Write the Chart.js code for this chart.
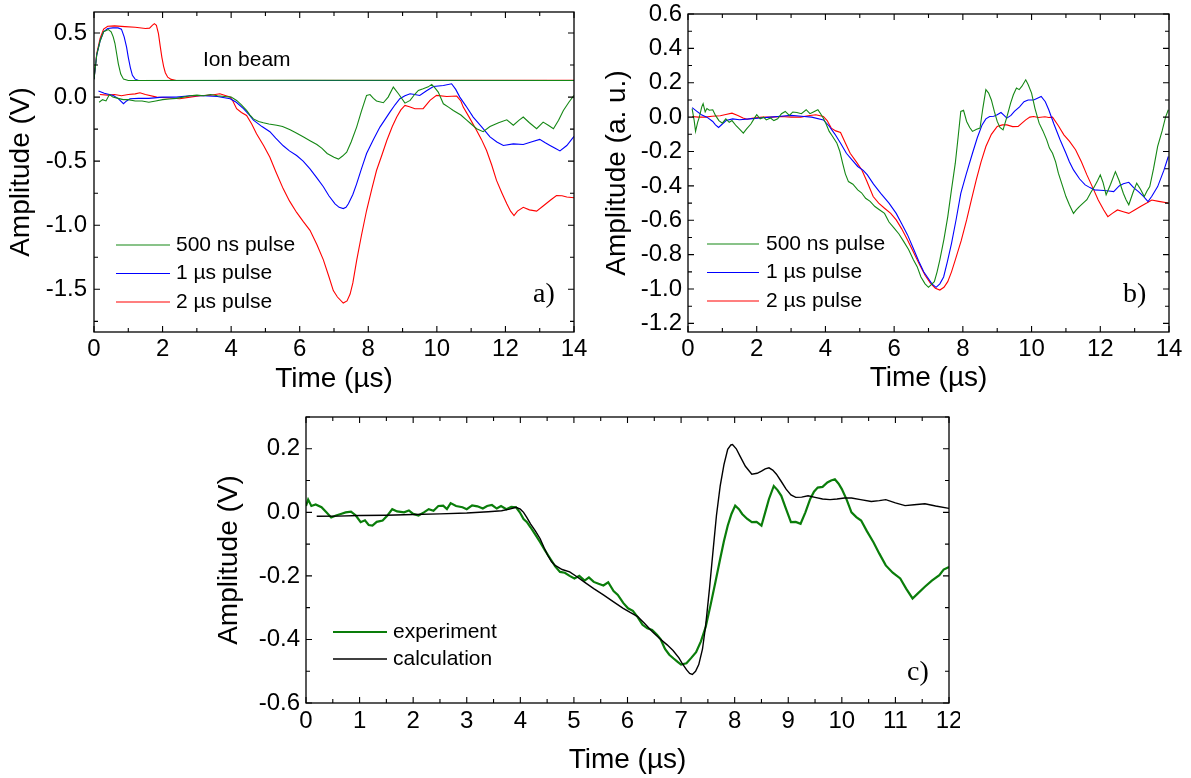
<!DOCTYPE html>
<html>
<head>
<meta charset="utf-8">
<script src="https://cdn.jsdelivr.net/npm/chart.js@4.4.0/dist/chart.umd.min.js"></script>
<style>
  body { margin: 0; background: #fff; }
  #wrap { position: relative; width: 1191px; height: 778px; background: #fff; }
  #wrap canvas { position: absolute; }
</style>
</head>
<body>
<div id="wrap">
  <canvas id="chartA" width="595" height="400" style="left:0;top:0"></canvas>
  <canvas id="chartB" width="596" height="400" style="left:595px;top:0"></canvas>
  <canvas id="chartC" width="760" height="378" style="left:200px;top:400px"></canvas>
</div>
<script>
// ---- a) raw signals, [time µs, amplitude V]
var pulseA500 = [[0,0.14],[0.08,0.33],[0.18,0.44],[0.28,0.51],[0.42,0.527],[0.5,0.51],[0.56,0.47],[0.61,0.42],[0.66,0.34],[0.71,0.26],[0.78,0.18],[0.86,0.14],[1.0,0.13],[6,0.131],[14,0.13]];
var pulseA1 = [[0,0.14],[0.08,0.33],[0.18,0.44],[0.28,0.51],[0.4,0.535],[0.55,0.54],[0.7,0.54],[0.8,0.53],[0.88,0.47],[0.95,0.39],[1.0,0.31],[1.06,0.23],[1.12,0.17],[1.2,0.14],[1.3,0.13],[14,0.13]];
var pulseA2 = [[0,0.14],[0.08,0.34],[0.18,0.46],[0.28,0.53],[0.4,0.553],[0.6,0.556],[0.9,0.55],[1.2,0.545],[1.5,0.535],[1.62,0.538],[1.7,0.56],[1.76,0.573],[1.82,0.56],[1.88,0.495],[1.93,0.4],[1.98,0.31],[2.03,0.24],[2.08,0.19],[2.15,0.155],[2.25,0.138],[2.4,0.13],[14,0.132]];

var sigA500 = [[0.15,-0.04],[0.25,-0.02],[0.35,-0.03],[0.45,0.02],[0.55,0.0],[0.7,-0.01],[0.85,-0.02],[1.0,-0.02],[1.2,-0.03],[1.4,-0.03],[1.6,-0.04],[1.8,-0.03],[2.0,-0.02],[2.2,-0.015],[2.4,-0.01],[2.6,0.0],[2.8,0.01],[3.0,0.015],[3.2,0.01],[3.4,0.02],[3.6,0.01],[3.8,0.005],[4.0,0.0],[4.16,-0.026],[4.3,-0.06],[4.45,-0.104],[4.55,-0.14],[4.65,-0.17],[4.8,-0.19],[4.94,-0.2],[5.1,-0.21],[5.33,-0.22],[5.5,-0.23],[5.72,-0.255],[5.9,-0.28],[6.1,-0.31],[6.3,-0.34],[6.5,-0.37],[6.65,-0.4],[6.8,-0.44],[7.0,-0.47],[7.13,-0.484],[7.25,-0.46],[7.37,-0.43],[7.5,-0.35],[7.66,-0.234],[7.8,-0.11],[7.95,0.013],[8.05,0.02],[8.15,-0.01],[8.24,-0.03],[8.44,-0.044],[8.58,0.0],[8.73,0.078],[8.88,0.026],[9.07,-0.047],[9.22,-0.026],[9.35,0.02],[9.46,0.052],[9.6,0.065],[9.75,0.08],[9.85,0.099],[9.95,0.07],[10.04,0.039],[10.19,-0.052],[10.35,-0.08],[10.48,-0.104],[10.7,-0.14],[10.87,-0.18],[11.0,-0.21],[11.16,-0.247],[11.35,-0.27],[11.55,-0.23],[11.8,-0.2],[12.04,-0.177],[12.23,-0.22],[12.4,-0.18],[12.52,-0.156],[12.7,-0.2],[12.91,-0.247],[13.1,-0.195],[13.25,-0.22],[13.4,-0.247],[13.55,-0.18],[13.69,-0.104],[13.85,-0.04],[14,0.013]];
var sigA1 = [[0.13,0.047],[0.3,0.03],[0.56,0.013],[0.7,-0.01],[0.86,-0.052],[0.95,-0.03],[1.05,-0.013],[1.3,-0.01],[1.6,-0.01],[2.0,0.0],[2.4,0.0],[2.8,0.01],[3.2,0.01],[3.6,0.005],[3.97,-0.013],[4.15,-0.04],[4.36,-0.09],[4.5,-0.13],[4.65,-0.18],[4.9,-0.23],[5.13,-0.27],[5.3,-0.32],[5.52,-0.38],[5.7,-0.42],[5.91,-0.456],[6.1,-0.5],[6.3,-0.56],[6.5,-0.63],[6.69,-0.7],[6.85,-0.77],[7.03,-0.833],[7.15,-0.86],[7.27,-0.87],[7.35,-0.86],[7.42,-0.833],[7.55,-0.76],[7.66,-0.677],[7.8,-0.56],[7.95,-0.44],[8.15,-0.33],[8.34,-0.234],[8.5,-0.17],[8.63,-0.117],[8.78,-0.06],[8.92,-0.013],[9.07,0.01],[9.22,0.026],[9.35,0.02],[9.5,0.013],[9.7,0.05],[9.9,0.083],[10.19,0.091],[10.43,0.104],[10.55,0.06],[10.67,0.0],[10.85,-0.07],[11.06,-0.156],[11.3,-0.23],[11.55,-0.31],[11.75,-0.35],[11.94,-0.378],[12.23,-0.365],[12.52,-0.37],[12.75,-0.35],[13.0,-0.33],[13.15,-0.355],[13.3,-0.378],[13.45,-0.4],[13.59,-0.42],[13.79,-0.378],[14,-0.307]];
var sigA2 = [[0.17,0.02],[0.4,0.015],[0.6,0.02],[0.8,0.01],[1.0,0.02],[1.2,0.025],[1.34,0.034],[1.5,0.02],[1.83,0.0],[2.1,-0.005],[2.5,-0.013],[2.8,0.0],[3.1,0.01],[3.4,0.015],[3.67,0.026],[3.85,0.01],[3.97,0.0],[4.05,-0.03],[4.16,-0.09],[4.3,-0.12],[4.45,-0.143],[4.6,-0.21],[4.74,-0.286],[4.95,-0.38],[5.13,-0.47],[5.3,-0.58],[5.52,-0.716],[5.7,-0.81],[5.91,-0.9],[6.1,-0.97],[6.3,-1.04],[6.5,-1.15],[6.69,-1.27],[6.85,-1.4],[6.98,-1.51],[7.1,-1.56],[7.27,-1.607],[7.38,-1.59],[7.47,-1.537],[7.55,-1.45],[7.66,-1.276],[7.8,-1.08],[7.95,-0.885],[8.1,-0.72],[8.24,-0.573],[8.4,-0.45],[8.54,-0.339],[8.7,-0.23],[8.83,-0.156],[8.95,-0.1],[9.07,-0.065],[9.2,-0.075],[9.36,-0.091],[9.6,-0.09],[9.8,-0.026],[9.99,0.013],[10.29,0.005],[10.58,0.008],[10.7,-0.03],[10.77,-0.078],[10.95,-0.16],[11.16,-0.26],[11.3,-0.33],[11.45,-0.417],[11.6,-0.53],[11.74,-0.65],[11.9,-0.75],[12.04,-0.833],[12.15,-0.89],[12.25,-0.924],[12.35,-0.89],[12.52,-0.86],[12.7,-0.88],[12.91,-0.89],[13.1,-0.85],[13.3,-0.807],[13.49,-0.768],[13.65,-0.77],[13.79,-0.78],[14,-0.786]];

// ---- b) normalised signals, [time µs, a.u.]
var sigB500 = [[0.12,0.05],[0.18,-0.02],[0.22,-0.083],[0.28,-0.03],[0.33,0.0],[0.4,0.06],[0.44,0.078],[0.5,0.03],[0.55,0.05],[0.62,0.04],[0.72,0.043],[0.8,0.01],[0.9,-0.02],[1.0,-0.035],[1.1,-0.01],[1.2,-0.03],[1.28,-0.02],[1.4,-0.05],[1.5,-0.07],[1.61,-0.093],[1.7,-0.07],[1.83,-0.04],[1.92,-0.01],[2.0,0.014],[2.1,-0.01],[2.2,0.0],[2.28,-0.016],[2.4,-0.005],[2.5,-0.02],[2.61,-0.01],[2.72,0.02],[2.83,0.033],[2.95,0.01],[3.05,0.03],[3.17,0.027],[3.3,0.02],[3.44,0.043],[3.55,0.02],[3.65,0.03],[3.78,0.043],[3.86,0.02],[3.94,-0.006],[4.02,-0.04],[4.11,-0.083],[4.2,-0.11],[4.33,-0.15],[4.42,-0.2],[4.5,-0.268],[4.58,-0.33],[4.67,-0.375],[4.8,-0.39],[4.94,-0.423],[5.05,-0.44],[5.17,-0.472],[5.3,-0.49],[5.44,-0.52],[5.58,-0.54],[5.72,-0.56],[5.85,-0.61],[6.0,-0.646],[6.14,-0.68],[6.28,-0.724],[6.42,-0.77],[6.56,-0.83],[6.67,-0.87],[6.78,-0.93],[6.9,-0.97],[7.0,-0.99],[7.08,-0.975],[7.17,-0.957],[7.25,-0.9],[7.33,-0.83],[7.45,-0.71],[7.56,-0.58],[7.67,-0.42],[7.78,-0.268],[7.86,-0.12],[7.94,0.033],[8.02,0.04],[8.11,-0.025],[8.2,-0.06],[8.28,-0.083],[8.4,-0.07],[8.5,-0.064],[8.58,0.05],[8.67,0.16],[8.75,0.14],[8.83,0.1],[8.92,0.03],[9.0,-0.025],[9.08,-0.06],[9.17,-0.074],[9.28,0.0],[9.39,0.082],[9.47,0.13],[9.56,0.169],[9.64,0.16],[9.72,0.18],[9.83,0.217],[9.9,0.19],[10.0,0.14],[10.1,0.05],[10.22,-0.035],[10.33,-0.08],[10.44,-0.132],[10.52,-0.18],[10.61,-0.21],[10.7,-0.26],[10.78,-0.326],[10.9,-0.4],[11.0,-0.462],[11.1,-0.51],[11.22,-0.56],[11.3,-0.54],[11.39,-0.52],[11.5,-0.5],[11.61,-0.48],[11.72,-0.44],[11.83,-0.404],[11.92,-0.37],[12.0,-0.336],[12.08,-0.38],[12.17,-0.452],[12.3,-0.39],[12.44,-0.317],[12.55,-0.37],[12.67,-0.443],[12.75,-0.48],[12.83,-0.51],[12.95,-0.44],[13.06,-0.384],[13.17,-0.42],[13.28,-0.462],[13.36,-0.43],[13.44,-0.404],[13.55,-0.3],[13.67,-0.17],[13.8,-0.08],[13.9,0.0],[13.98,0.043]];
var sigB1 = [[0.12,0.055],[0.25,0.035],[0.39,0.014],[0.55,0.0],[0.72,-0.025],[0.8,-0.045],[0.89,-0.06],[1.0,-0.04],[1.11,-0.02],[1.3,-0.01],[1.5,-0.015],[1.8,-0.01],[2.1,-0.005],[2.4,0.0],[2.7,0.005],[3.0,0.01],[3.3,0.005],[3.6,0.0],[3.94,-0.016],[4.1,-0.05],[4.28,-0.1],[4.45,-0.155],[4.61,-0.21],[4.78,-0.25],[4.94,-0.287],[5.1,-0.31],[5.22,-0.336],[5.4,-0.39],[5.61,-0.443],[5.85,-0.5],[6.06,-0.56],[6.22,-0.62],[6.39,-0.685],[6.55,-0.76],[6.72,-0.84],[6.86,-0.9],[7.0,-0.94],[7.1,-0.97],[7.22,-0.99],[7.33,-0.97],[7.44,-0.93],[7.55,-0.84],[7.67,-0.734],[7.8,-0.6],[7.94,-0.443],[8.1,-0.33],[8.28,-0.21],[8.42,-0.12],[8.56,-0.045],[8.67,-0.01],[8.78,0.004],[8.9,0.005],[9.0,0.014],[9.11,0.027],[9.2,0.01],[9.28,-0.006],[9.4,0.01],[9.5,0.033],[9.65,0.06],[9.78,0.09],[9.9,0.1],[10.06,0.1],[10.17,0.11],[10.28,0.12],[10.4,0.09],[10.5,0.043],[10.65,-0.04],[10.83,-0.132],[11.0,-0.21],[11.1,-0.26],[11.22,-0.307],[11.4,-0.36],[11.56,-0.394],[11.7,-0.41],[11.83,-0.423],[12.0,-0.425],[12.11,-0.427],[12.25,-0.43],[12.39,-0.433],[12.55,-0.4],[12.67,-0.388],[12.83,-0.379],[12.97,-0.41],[13.11,-0.433],[13.25,-0.46],[13.39,-0.491],[13.5,-0.46],[13.67,-0.404],[13.85,-0.31],[13.98,-0.229]];
var sigB2 = [[0.12,0.004],[0.3,0.0],[0.5,0.0],[0.7,0.005],[0.94,0.008],[1.1,0.015],[1.28,0.023],[1.45,0.01],[1.6,-0.005],[1.72,-0.012],[1.9,-0.005],[2.17,0.0],[2.45,0.0],[2.72,0.004],[3.0,0.0],[3.28,0.0],[3.5,0.008],[3.72,0.014],[3.94,0.004],[4.05,-0.02],[4.17,-0.064],[4.3,-0.08],[4.44,-0.089],[4.58,-0.15],[4.72,-0.21],[4.9,-0.26],[5.06,-0.307],[5.2,-0.37],[5.39,-0.462],[5.55,-0.5],[5.72,-0.53],[5.9,-0.56],[6.06,-0.598],[6.22,-0.65],[6.39,-0.715],[6.55,-0.78],[6.72,-0.85],[6.9,-0.92],[7.06,-0.967],[7.2,-0.995],[7.33,-1.006],[7.45,-0.99],[7.56,-0.957],[7.67,-0.9],[7.78,-0.83],[7.95,-0.72],[8.11,-0.598],[8.25,-0.48],[8.39,-0.365],[8.53,-0.26],[8.67,-0.171],[8.83,-0.1],[9.0,-0.054],[9.15,-0.045],[9.28,-0.045],[9.45,-0.055],[9.61,-0.054],[9.72,-0.035],[9.83,-0.016],[9.95,0.0],[10.06,0.004],[10.2,-0.002],[10.39,0.002],[10.5,-0.002],[10.61,0.0],[10.78,-0.05],[10.94,-0.103],[11.1,-0.14],[11.28,-0.19],[11.45,-0.26],[11.61,-0.336],[11.78,-0.41],[11.94,-0.482],[12.1,-0.54],[12.22,-0.579],[12.35,-0.56],[12.5,-0.54],[12.67,-0.55],[12.83,-0.56],[13.0,-0.54],[13.17,-0.52],[13.35,-0.5],[13.5,-0.482],[13.7,-0.49],[13.98,-0.5]];

// ---- c) measured vs calculated, [time µs, amplitude V]
var expC = [[0.0,0.02],[0.04,0.04],[0.1,0.02],[0.18,0.025],[0.29,0.016],[0.38,0.0],[0.47,-0.016],[0.56,-0.01],[0.65,-0.005],[0.74,0.0],[0.84,0.002],[0.93,-0.01],[1.02,-0.031],[1.1,-0.025],[1.17,-0.04],[1.24,-0.042],[1.32,-0.03],[1.43,-0.026],[1.52,-0.01],[1.61,0.01],[1.7,0.003],[1.83,0.0],[1.92,0.006],[2.0,-0.005],[2.1,-0.01],[2.2,0.0],[2.29,0.01],[2.38,0.005],[2.47,0.02],[2.56,0.021],[2.63,0.01],[2.7,0.029],[2.8,0.02],[2.92,0.016],[3.0,0.01],[3.1,0.022],[3.2,0.019],[3.3,0.012],[3.38,0.02],[3.47,0.023],[3.56,0.012],[3.64,0.02],[3.74,0.01],[3.83,0.017],[3.92,0.016],[3.99,0.0],[4.06,-0.021],[4.12,-0.03],[4.19,-0.047],[4.28,-0.07],[4.37,-0.094],[4.46,-0.12],[4.56,-0.146],[4.65,-0.17],[4.74,-0.1875],[4.83,-0.19],[4.92,-0.2],[5.01,-0.208],[5.1,-0.2],[5.2,-0.215],[5.28,-0.205],[5.37,-0.219],[5.46,-0.225],[5.55,-0.23],[5.64,-0.22],[5.74,-0.248],[5.82,-0.26],[5.92,-0.285],[6.01,-0.302],[6.1,-0.31],[6.19,-0.33],[6.28,-0.354],[6.37,-0.365],[6.46,-0.37],[6.55,-0.385],[6.62,-0.4],[6.7,-0.43],[6.78,-0.448],[6.86,-0.46],[6.93,-0.47],[7.0,-0.479],[7.1,-0.475],[7.19,-0.458],[7.28,-0.44],[7.37,-0.406],[7.46,-0.36],[7.55,-0.292],[7.64,-0.22],[7.73,-0.146],[7.8,-0.09],[7.87,-0.042],[7.94,-0.005],[8.01,0.021],[8.08,0.01],[8.14,-0.005],[8.23,-0.02],[8.32,-0.031],[8.41,-0.03],[8.5,-0.042],[8.57,0.0],[8.64,0.042],[8.73,0.083],[8.8,0.07],[8.87,0.052],[8.96,0.01],[9.05,-0.031],[9.14,-0.03],[9.23,-0.036],[9.32,0.0],[9.41,0.042],[9.48,0.065],[9.55,0.078],[9.64,0.08],[9.73,0.094],[9.8,0.1],[9.87,0.104],[9.94,0.09],[10.0,0.073],[10.09,0.04],[10.18,0.0],[10.27,-0.015],[10.36,-0.026],[10.47,-0.06],[10.59,-0.094],[10.7,-0.13],[10.82,-0.167],[10.95,-0.19],[11.09,-0.208],[11.2,-0.24],[11.32,-0.271],[11.42,-0.255],[11.55,-0.234],[11.68,-0.215],[11.82,-0.198],[11.9,-0.18],[12.0,-0.172]];
var calcC = [[0.2,-0.0125],[0.6,-0.012],[1.0,-0.01],[1.5,-0.009],[2.0,-0.007],[2.5,-0.005],[3.0,-0.002],[3.4,0.002],[3.65,0.005],[3.8,0.01],[3.92,0.016],[4.0,0.01],[4.06,0.0],[4.12,-0.016],[4.19,-0.036],[4.28,-0.058],[4.37,-0.083],[4.44,-0.11],[4.51,-0.135],[4.58,-0.155],[4.65,-0.167],[4.78,-0.18],[4.92,-0.1875],[5.05,-0.202],[5.19,-0.219],[5.37,-0.24],[5.55,-0.26],[5.74,-0.282],[5.92,-0.302],[6.05,-0.315],[6.19,-0.328],[6.32,-0.35],[6.46,-0.375],[6.6,-0.397],[6.74,-0.417],[6.85,-0.435],[6.96,-0.458],[7.03,-0.478],[7.1,-0.495],[7.16,-0.507],[7.21,-0.51],[7.27,-0.5],[7.33,-0.479],[7.4,-0.43],[7.46,-0.354],[7.53,-0.24],[7.6,-0.115],[7.66,-0.01],[7.73,0.083],[7.8,0.15],[7.87,0.198],[7.93,0.212],[7.96,0.2135],[8.03,0.2],[8.1,0.177],[8.2,0.145],[8.32,0.12],[8.42,0.123],[8.5,0.13],[8.57,0.137],[8.64,0.14],[8.71,0.133],[8.78,0.12],[8.87,0.097],[8.96,0.073],[9.05,0.055],[9.14,0.047],[9.25,0.048],[9.37,0.052],[9.5,0.047],[9.64,0.042],[9.78,0.04],[9.91,0.042],[10.05,0.045],[10.18,0.045],[10.35,0.04],[10.55,0.034],[10.7,0.037],[10.82,0.04],[11.0,0.03],[11.18,0.021],[11.35,0.024],[11.55,0.027],[11.75,0.02],[12.0,0.0125]];

// tick values (labelled)
var xTicks14 = [0, 2, 4, 6, 8, 10, 12, 14];
var xTicks12 = [0, 1, 2, 3, 4, 5, 6, 7, 8, 9, 10, 11, 12];
var yTicksA = [-1.5, -1.0, -0.5, 0.0, 0.5];
var yTicksB = [-1.2, -1.0, -0.8, -0.6, -0.4, -0.2, 0.0, 0.2, 0.4, 0.6];
var yTicksC = [-0.6, -0.4, -0.2, 0.0, 0.2];

var SANS = "'Liberation Sans', Arial, Helvetica, sans-serif";
var SERIF = "'Liberation Serif', 'Times New Roman', serif";
var GREEN = 'rgb(20,135,20)', BLUE = 'rgb(0,0,255)', RED = 'rgb(255,0,0)';

function pts(arr) {
  return arr.map(function (p) { return {x: p[0], y: p[1]}; });
}

function line(label, arr, color, width, order) {
  return {label: label, data: pts(arr), borderColor: color, borderWidth: width || 1.1,
          pointRadius: 0, tension: 0, fill: false, order: order || 0};
}

// box frame with inward major/minor ticks on all four sides, plus legend and notes
var framePlugin = {
  id: 'frame',
  afterDatasetsDraw: function (chart, args, opts) {
    var ctx = chart.ctx, a = chart.chartArea;
    var xs = chart.scales.x, ys = chart.scales.y;
    ctx.save();
    ctx.strokeStyle = '#000';
    ctx.lineWidth = 1.3;
    ctx.strokeRect(a.left, a.top, a.right - a.left, a.bottom - a.top);

    function minors(list, min, max) {
      var step = list[1] - list[0], out = [];
      for (var v = list[0] - step / 2; v <= max + 1e-9; v += step) {
        if (v >= min - 1e-9) out.push(v);
      }
      return out;
    }
    function drawX(vals, len) {
      vals.forEach(function (v) {
        var px = xs.getPixelForValue(v);
        ctx.moveTo(px, a.bottom); ctx.lineTo(px, a.bottom - len);
        ctx.moveTo(px, a.top); ctx.lineTo(px, a.top + len);
      });
    }
    function drawY(vals, len) {
      vals.forEach(function (v) {
        var py = ys.getPixelForValue(v);
        ctx.moveTo(a.left, py); ctx.lineTo(a.left + len, py);
        ctx.moveTo(a.right, py); ctx.lineTo(a.right - len, py);
      });
    }
    var xv = xs.ticks.map(function (t) { return t.value; });
    var yv = ys.ticks.map(function (t) { return t.value; });
    ctx.beginPath();
    drawX(xv, 6);
    drawY(yv, 6);
    drawX(minors(xv, xs.min, xs.max), 4);
    drawY(minors(yv, ys.min, ys.max), 4);
    ctx.lineWidth = 1.1;
    ctx.stroke();

    // legend
    var lg = opts.legend, row = 0;
    ctx.font = lg.font;
    ctx.textBaseline = 'middle';
    ctx.textAlign = 'left';
    chart.data.datasets.forEach(function (ds) {
      if (!ds.label) return;
      var y = lg.y + row * lg.row;
      ctx.beginPath();
      ctx.strokeStyle = ds.borderColor;
      ctx.lineWidth = ds.borderWidth;
      ctx.moveTo(lg.x, y);
      ctx.lineTo(lg.x + lg.len, y);
      ctx.stroke();
      ctx.fillStyle = '#000';
      ctx.fillText(ds.label, lg.x + lg.len + lg.gap, y);
      row++;
    });

    // free text
    ctx.textBaseline = 'alphabetic';
    (opts.notes || []).forEach(function (n) {
      ctx.font = n.font;
      ctx.fillStyle = '#000';
      ctx.fillText(n.text, n.x, n.y);
    });
    ctx.restore();
  }
};

function axis(o) {
  return {
    type: 'linear',
    min: o.min,
    max: o.max,
    grid: {display: false, drawTicks: false},
    border: {display: false},
    ticks: {
      color: '#000',
      font: {family: SANS, size: 24},
      padding: o.tickPad,
      autoSkip: false,
      maxRotation: 0,
      minRotation: 0,
      callback: o.fmt
    },
    title: {
      display: true,
      text: o.title,
      color: '#000',
      font: {family: SANS, size: 28},
      padding: {top: o.titlePad, bottom: o.titlePad}
    },
    afterBuildTicks: function (s) {
      s.ticks = o.ticks.map(function (v) { return {value: v}; });
    },
    afterFit: function (s) {
      if (o.width) s.width = o.width;
      if (o.height) s.height = o.height;
      s.paddingTop = 0; s.paddingBottom = 0;
      s.paddingLeft = 0; s.paddingRight = 0;
    }
  };
}

function fmtX(v) { return String(v); }
function fmtY(v) { return v.toFixed(1); }

function makeChart(id, cfg) {
  return new Chart(document.getElementById(id), {
    type: 'line',
    data: {datasets: cfg.datasets},
    options: {
      responsive: false,
      animation: false,
      devicePixelRatio: 1,
      layout: {padding: cfg.pad},
      plugins: {
        legend: {display: false},
        tooltip: {enabled: false},
        frame: cfg.frame
      },
      scales: {x: axis(cfg.x), y: axis(cfg.y)}
    },
    plugins: [framePlugin]
  });
}

// a) pulses and raw signals
makeChart('chartA', {
  pad: {top: 12, right: 21, left: 0, bottom: 0},
  datasets: [
    line('500 ns pulse', sigA500, GREEN),
    line('1 µs pulse', sigA1, BLUE),
    line('2 µs pulse', sigA2, RED),
    line('', pulseA500, GREEN),
    line('', pulseA1, BLUE),
    line('', pulseA2, RED)
  ],
  x: {min: 0, max: 14, ticks: xTicks14, fmt: fmtX, title: 'Time (µs)', tickPad: 3, titlePad: 4, height: 68},
  y: {min: -1.833, max: 0.664, ticks: yTicksA, fmt: fmtY, title: 'Amplitude (V)', tickPad: 7, titlePad: 4, width: 94},
  frame: {
    legend: {x: 116, y: 245, row: 28.5, len: 54, gap: 6, font: '21px ' + SANS},
    notes: [
      {text: 'Ion beam', x: 203, y: 66, font: '21px ' + SANS},
      {text: 'a)', x: 533, y: 302, font: '28px ' + SERIF}
    ]
  }
});

// b) normalised
makeChart('chartB', {
  pad: {top: 14, right: 22, left: 0, bottom: 0},
  datasets: [
    line('500 ns pulse', sigB500, GREEN),
    line('1 µs pulse', sigB1, BLUE),
    line('2 µs pulse', sigB2, RED)
  ],
  x: {min: 0, max: 14, ticks: xTicks14, fmt: fmtX, title: 'Time (µs)', tickPad: 3, titlePad: 5, height: 68},
  y: {min: -1.25, max: 0.6, ticks: yTicksB, fmt: fmtY, title: 'Amplitude (a. u.)', tickPad: 6, titlePad: 5, width: 93},
  frame: {
    legend: {x: 112, y: 244, row: 28.5, len: 52, gap: 7, font: '21px ' + SANS},
    notes: [
      {text: 'b)', x: 528, y: 302, font: '28px ' + SERIF}
    ]
  }
});

// c) experiment vs calculation
makeChart('chartC', {
  pad: {top: 17, right: 11, left: 0, bottom: 0},
  datasets: [
    line('experiment', expC, 'rgb(10,125,10)', 2.2, 1),
    line('calculation', calcC, '#000', 1.4, 0)
  ],
  x: {min: 0, max: 12, ticks: xTicks12, fmt: fmtX, title: 'Time (µs)', tickPad: 4, titlePad: 1, height: 75},
  y: {min: -0.6, max: 0.3, ticks: yTicksC, fmt: fmtY, title: 'Amplitude (V)', tickPad: 6, titlePad: 12, width: 106},
  frame: {
    legend: {x: 133, y: 232, row: 27, len: 54, gap: 6, font: '21px ' + SANS},
    notes: [
      {text: 'c)', x: 707, y: 280, font: '28px ' + SERIF}
    ]
  }
});
</script>
</body>
</html>
